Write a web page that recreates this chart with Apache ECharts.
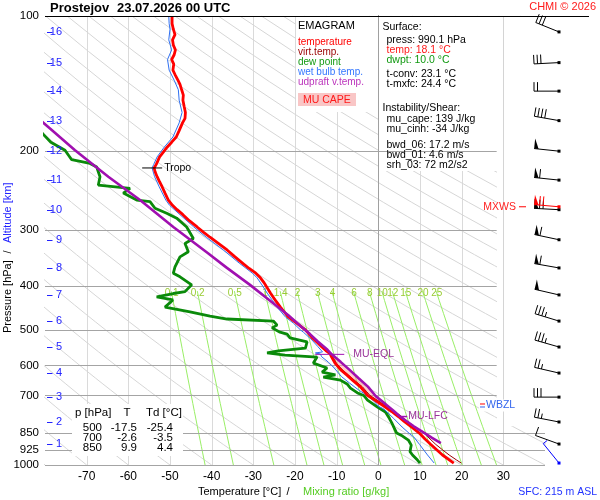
<!DOCTYPE html>
<html>
<head>
<meta charset="utf-8">
<script src="https://cdn.jsdelivr.net/npm/echarts@6/dist/echarts.min.js"></script>
<style>html,body{margin:0;padding:0;background:#fff;}#chart{width:600px;height:500px;}</style>
</head>
<body>
<div id="chart"></div>
<script>
// ---------------- data ----------------
const stationName = 'Prostejov';
const runTime = '23.07.2026 00 UTC';
const pressureTicks = [100, 200, 300, 400, 500, 600, 700, 850, 925, 1000];
const pressureGridLines = [200, 300, 400, 500, 600, 700, 850, 925, 1000];
const tempGridLight = [-70, -60, -50, -40, -30, -20, -10, 10, 20];
const tempGridStrong = [0, 30];
const altitudeKm = [1, 2, 3, 4, 5, 6, 7, 8, 9, 10, 11, 12, 13, 14, 15, 16];
const altitudeP = [898, 802, 706, 624, 546, 478, 418, 364, 315, 270, 232, 200, 171, 147, 127, 108.5];
const mixingRatios = [0.1, 0.2, 0.5, 1, 1.4, 2, 3, 4, 6, 8, 10, 12, 15, 20, 25];
const adiabatThetas = [-80,-70,-60,-50,-40,-30,-20,-10,0,10,20,30,40,50,60,70,80,90,100,110,120,130,140,150,160,170,180,190,200,210,220,230,240,250,260,270,280,290,300,310,320,330];

// [pressure hPa, value °C]
const temperature = [[990,18.1],[975,17.1],[950,15.4],[925,14.0],[900,12.6],[875,11.2],[850,9.9],[825,8.1],[800,6.2],[780,4.8],[760,3.2],[740,1.4],[720,-0.6],[700,-2.6],[685,-3.4],[670,-4.3],[647,-6.2],[630,-7.6],[614,-9.0],[593,-10.4],[575,-11.2],[565,-11.6],[556,-12.6],[545,-13.6],[535,-14.5],[519,-16.0],[500,-17.5],[483,-19.6],[468,-21.6],[456,-22.6],[445,-23.5],[430,-24.7],[414,-25.9],[400,-26.9],[393,-27.4],[383,-28.3],[374,-29.4],[365,-31.0],[355,-32.6],[344,-34.4],[332,-36.3],[321,-38.4],[311,-40.4],[303,-42.0],[295,-43.5],[286,-45.3],[277,-46.9],[270,-48.3],[264,-49.4],[257,-50.4],[248,-51.2],[240,-51.9],[233,-52.6],[228,-53.1],[222,-53.6],[218,-53.8],[214,-53.3],[210,-52.9],[206,-52.5],[201,-51.6],[196,-50.7],[191,-49.6],[186,-48.5],[180,-47.8],[173,-47.0],[169,-46.4],[164,-46.3],[159,-46.6],[154,-46.9],[150,-46.8],[146,-47.2],[142,-47.6],[139,-48.1],[135,-48.8],[132,-49.3],[128,-49.1],[125,-49.6],[122,-49.0],[119,-48.7],[116,-49.2],[113,-49.4],[110,-48.8],[107,-49.2],[104,-49.5],[100,-49.5]];
const virtualTemp = [[990,19.9],[975,18.8],[950,17.0],[925,15.4],[900,13.8],[875,12.4],[850,11.0],[825,9.0],[800,7.0],[780,5.6],[760,3.9],[740,2.0],[720,0.0],[700,-2.0],[685,-2.9],[670,-3.8],[647,-5.8],[630,-7.2],[614,-8.6],[593,-10.1],[575,-10.9],[565,-11.3],[556,-12.3],[545,-13.3],[535,-14.3],[519,-15.8],[500,-17.3],[483,-19.5],[468,-21.5],[445,-23.4],[414,-25.8],[400,-26.8]];
const dewpoint = [[990,10.0],[975,9.4],[950,8.2],[934,7.6],[926,7.4],[903,7.9],[880,7.2],[862,5.8],[849,4.4],[827,3.8],[805,3.2],[786,2.6],[762,1.7],[743,-0.2],[717,-2.6],[700,-3.5],[691,-5.0],[674,-6.7],[660,-7.5],[647,-9.1],[637,-13.2],[630,-10.3],[621,-13.5],[608,-12.3],[593,-15.6],[575,-14.7],[569,-22.4],[563,-26.7],[557,-24.0],[549,-17.5],[532,-17.1],[521,-21.2],[511,-21.9],[506,-23.6],[495,-25.5],[488,-24.3],[478,-25.2],[473,-36.3],[466,-40.4],[456,-45.2],[445,-51.2],[429,-49.3],[422,-53.2],[415,-49.2],[411,-46.4],[397,-44.8],[381,-47.6],[374,-49.2],[362,-48.8],[344,-47.6],[335,-45.6],[321,-46.4],[313,-44.4],[295,-46.0],[282,-48.4],[275,-50.8],[268,-53.6],[259,-54.8],[257,-58.0],[248,-61.2],[242,-59.6],[238,-67.2],[228,-66.8],[217,-67.6],[213,-69.2],[209,-73.6],[199,-75.2],[191,-78.6],[183,-80.5],[175,-83]];
const wetBulb = [[990,13.4],[950,11.8],[926,10.9],[900,9.9],[866,8.5],[850,7.4],[823,5.7],[788,3.7],[750,1.3],[740,0.0],[723,-0.9],[700,-2.7],[682,-4.6],[657,-6.9],[636,-8.8],[608,-10.6],[590,-12.0],[574,-13.6],[566,-13.9],[563,-15.1],[560,-13.4],[545,-14.5],[527,-15.9],[506,-18.0],[500,-18.7],[483,-20.4],[468,-22.3],[445,-24.3],[430,-25.4],[414,-26.7],[400,-27.7],[383,-29.1],[374,-30.2],[355,-33.4],[332,-37.2],[311,-41.3],[295,-44.3],[277,-47.6],[264,-50.1],[257,-51.0],[240,-52.6],[228,-53.7],[218,-54.3],[214,-53.9],[206,-53.1],[196,-51.4],[186,-49.3],[173,-47.8],[164,-47.1],[154,-47.8],[146,-48.0],[139,-49.0],[132,-50.2],[125,-50.6],[119,-49.6],[113,-50.3],[107,-50.0],[104,-50.2],[100,-50.3]];
const parcel = [[894,15.0],[870,12.9],[850,11.2],[820,8.5],[800,6.9],[780,5.2],[755,3.5],[730,1.6],[703,-0.6],[669,-2.5],[640,-4.8],[614,-6.9],[590,-9.0],[567,-11.2],[554,-12.2],[530,-14.6],[511,-16.4],[490,-18.7],[464,-21.6],[429,-26.2],[397,-30.8],[363,-36.5],[338,-40.8],[295,-49.2],[257,-57.2],[228,-64.8],[199,-72.8],[178,-78.8],[168,-82]];

const lfcLevel = [780, 5.0];
const eqlLevel = [567, -11.3];
const tropoLevel = [218, -53.8];
const wbzlP = 737;

// winds at altitude levels (knots, direction deg)
const windP = [898, 802, 706, 624, 546, 478, 418, 364, 315, 270, 232, 200, 171, 147, 127, 108.5];
const windSpeed = [10, 25, 30, 25, 35, 35, 50, 60, 60, 70, 60, 50, 40, 20, 30, 30];
const windDir = [290, 281, 270, 283, 286, 287, 283, 280, 282, 273, 276, 276, 280, 270, 267, 292];
const sfcWind = [990, 5, 321];
const maxWind = [266, 70, 275];

const tableP = [500, 700, 850];
const tableT = [-17.5, -2.6, 9.9];
const tableTd = [-25.4, -3.5, 4.4];

const legendItems = [['temperature', '#ff0000'], ['virt.temp.', '#990000'], ['dew point', '#119911'], ['wet bulb temp.', '#3377ff'], ['udpraft v.temp.', '#bb33bb']];
const surfaceLines = [
  ['Surface:', 0, 27.5, '#000'], ['press: 990.1 hPa', 4, 40, '#000'], ['temp: 18.1 °C', 4, 50, '#ff1a1a'],
  ['dwpt: 10.0 °C', 4, 60, '#119911'], ['t-conv: 23.1 °C', 4, 74, '#000'], ['t-mxfc: 24.4 °C', 4, 84, '#000'],
  ['Instability/Shear:', 0, 108.5, '#000'], ['mu_cape: 139 J/kg', 4, 119.5, '#000'], ['mu_cinh: -34 J/kg', 4, 129.5, '#000'],
  ['bwd_06: 17.2 m/s', 4, 145, '#000'], ['bwd_01: 4.6 m/s', 4, 155, '#000'], ['srh_03: 72 m2/s2', 4, 165, '#000']
];

// ---------------- helpers ----------------
const FONT = '"Liberation Sans", Arial, Helvetica, sans-serif';
function st(text, x, y, size, color, align, bold) {
  return { text: text, x: x, y: y, fill: color || '#000', font: (bold ? 'bold ' : '') + size + 'px ' + FONT,
    align: align || 'left', textAlign: align || 'left', verticalAlign: 'middle', textVerticalAlign: 'middle' };
}
function gtext(text, x, y, size, color, align, bold, z) {
  return { type: 'text', z: z || 20, silent: true, style: st(text, x, y, size, color, align, bold) };
}
const xy = arr => arr.map(d => [d[1], d[0]]);

function thetaLine(theta) {
  const pts = [];
  for (let p = 1000; p >= 100; p -= 20) {
    pts.push([(theta + 273.15) * Math.pow(p / 1000, 0.2857) - 273.15, p]);
  }
  return pts;
}
function mixT(w, p) {
  const e = w * p / (622 + w);
  const l = Math.log(e / 6.112);
  return 243.5 * l / (17.67 - l);
}
function mixLine(w) {
  const pts = [];
  for (let p = 1000; p >= 410; p -= 30) pts.push([mixT(w, p), p]);
  pts.push([mixT(w, 410), 410]);
  return pts;
}

function barbShapes(x0, y0, spd, dir, color) {
  const r = dir * Math.PI / 180, ux = Math.sin(r), uy = -Math.cos(r);
  const L = 25, ex = x0 + ux * L, ey = y0 + uy * L, px = -uy, py = ux;
  const ch = [
    { type: 'line', shape: { x1: x0, y1: y0, x2: ex, y2: ey }, style: { stroke: color, lineWidth: 1 } },
    { type: 'rect', shape: { x: x0 - 1.5, y: y0 - 1.5, width: 3, height: 3 }, style: { fill: color } }
  ];
  let s = Math.round(spd / 5) * 5, pos = 0;
  while (s >= 50) {
    const bx = ex - ux * pos, by = ey - uy * pos;
    ch.push({ type: 'polygon', shape: { points: [[bx, by], [bx + px * 10, by + py * 10], [bx - ux * 4.5, by - uy * 4.5]] }, style: { fill: color } });
    pos += 5.5; s -= 50;
  }
  while (s >= 10) {
    const bx = ex - ux * pos, by = ey - uy * pos;
    ch.push({ type: 'line', shape: { x1: bx, y1: by, x2: bx + px * 9, y2: by + py * 9 }, style: { stroke: color, lineWidth: 1 } });
    pos += 3.5; s -= 10;
  }
  if (s >= 5) {
    const bx = ex - ux * pos, by = ey - uy * pos;
    ch.push({ type: 'line', shape: { x1: bx, y1: by, x2: bx + px * 5, y2: by + py * 5 }, style: { stroke: color, lineWidth: 1 } });
  }
  return ch;
}

// ---------------- series ----------------
const series = [];
adiabatThetas.forEach(th => series.push({ type: 'line', data: xy(thetaLine(th).map(d => [d[1], d[0]])), showSymbol: false, silent: true, z: 1,
  lineStyle: { color: '#d6d6d6', width: 1 } }));
mixingRatios.forEach(w => series.push({ type: 'line', data: mixLine(w), showSymbol: false, silent: true, z: 1,
  lineStyle: { color: '#99ee66', width: 1 } }));
series.push({ type: 'custom', z: 1, silent: true, data: tempGridLight.map(v => [v, 1000]),
  renderItem: (params, api) => {
    const a = api.coord([api.value(0), 100]), b = api.coord([api.value(0), 1000]);
    const x = Math.round(a[0]) + 0.5;
    return { type: 'line', shape: { x1: x, y1: a[1], x2: x, y2: b[1] }, style: { stroke: '#dadada', lineWidth: 1 } };
  } });
series.push({ type: 'custom', z: 3, silent: true, data: tempGridStrong.map(v => [v, 1000]),
  renderItem: (params, api) => {
    const v = api.value(0);
    const a = api.coord([v, 100]), b = api.coord([v, 1000]);
    const x = Math.round(a[0]) + 0.5;
    return { type: 'line', shape: { x1: x, y1: a[1], x2: x, y2: b[1] }, style: { stroke: v === 0 ? '#a0a0a0' : '#d4d4d4', lineWidth: 1 } };
  } });
series.push({ type: 'custom', z: 3, silent: true, data: pressureGridLines.map(p => [-80, p]),
  renderItem: (params, api) => {
    const p = api.value(1);
    const a = api.coord([-80, p]), b = api.coord([p >= 850 ? 40 : 28.4, p]);
    const y = Math.round(a[1]) + 0.5;
    return { type: 'line', shape: { x1: a[0], y1: y, x2: b[0], y2: y }, style: { stroke: '#a4a4a4', lineWidth: 1 } };
  } });
// frame top line
series.push({ type: 'custom', z: 12, silent: true, data: [[-80, 100]],
  renderItem: (params, api) => {
    const a = api.coord([-80, 100]), b = api.coord([40, 100]);
    const y = Math.round(a[1]) + 0.5;
    return { type: 'line', shape: { x1: a[0], y1: y, x2: b[0] + 44, y2: y }, style: { stroke: '#000', lineWidth: 1 } };
  } });
// mixing ratio labels
series.push({ type: 'custom', z: 4, silent: true, data: mixingRatios.map(w => [mixT(w, 414), 414, w]),
  renderItem: (params, api) => {
    const a = api.coord([api.value(0), api.value(1)]);
    return { type: 'text', style: st(String(api.value(2)), a[0], a[1], 10, '#99cc33', 'center') };
  } });
// CAPE area
const capePoly = parcel.filter(d => d[0] <= lfcLevel[0] && d[0] >= eqlLevel[0])
  .concat(temperature.filter(d => d[0] <= lfcLevel[0] && d[0] >= 565).reverse());
series.push({ type: 'custom', z: 4, silent: true, data: [[0, 500]],
  renderItem: (params, api) => ({ type: 'polygon', shape: { points: capePoly.map(d => api.coord([d[1], d[0]])) },
    style: { fill: 'rgba(255,140,140,0.45)' } }) });
// profiles
series.push({ type: 'line', data: xy(dewpoint), showSymbol: false, silent: true, z: 5, lineStyle: { color: '#0a8a0a', width: 2.8 } });
series.push({ type: 'line', data: xy(wetBulb), showSymbol: false, silent: true, z: 6, lineStyle: { color: '#2f6ff0', width: 1 } });
series.push({ type: 'line', data: xy(virtualTemp), showSymbol: false, silent: true, z: 7, lineStyle: { color: '#990000', width: 1 } });
series.push({ type: 'line', data: xy(temperature), showSymbol: false, silent: true, z: 8, lineStyle: { color: '#ff0000', width: 2.8 } });
series.push({ type: 'line', data: xy(parcel), showSymbol: false, silent: true, z: 9, lineStyle: { color: '#a010b0', width: 2.6 } });
// annotations
series.push({ type: 'custom', z: 13, silent: true, data: [[tropoLevel[1], tropoLevel[0]]],
  renderItem: (params, api) => {
    const a = api.coord([api.value(0), api.value(1)]);
    return { type: 'group', children: [
      { type: 'line', shape: { x1: a[0] - 12, y1: a[1], x2: a[0] + 8, y2: a[1] }, style: { stroke: '#000', lineWidth: 1 } },
      { type: 'text', style: st('Tropo', a[0] + 10, a[1], 10.5, '#000', 'left') }] };
  } });
series.push({ type: 'custom', z: 13, silent: true, data: [[eqlLevel[1], eqlLevel[0]]],
  renderItem: (params, api) => {
    const a = api.coord([api.value(0), api.value(1)]);
    return { type: 'group', children: [
      { type: 'line', shape: { x1: a[0] - 16, y1: a[1], x2: a[0] + 13, y2: a[1] }, style: { stroke: '#a010b0', lineWidth: 1 } },
      { type: 'text', style: st('MU-EQL', a[0] + 22, a[1], 10.5, '#993399', 'left') }] };
  } });
series.push({ type: 'custom', z: 13, silent: true, data: [[lfcLevel[1], lfcLevel[0]]],
  renderItem: (params, api) => {
    const a = api.coord([api.value(0), api.value(1)]);
    return { type: 'group', children: [
      { type: 'line', shape: { x1: a[0], y1: a[1], x2: a[0] + 8, y2: a[1] }, style: { stroke: '#a010b0', lineWidth: 1.5 } },
      { type: 'text', style: st('MU-LFC', a[0] + 9, a[1], 10.5, '#993399', 'left') }] };
  } });
series.push({ type: 'custom', z: 13, silent: true, data: [[40, wbzlP]],
  renderItem: (params, api) => {
    const a = api.coord([40, api.value(1)]);
    const x = a[0] - 66, y = a[1];
    return { type: 'group', children: [
      { type: 'rect', shape: { x: x, y: y - 6, width: 44, height: 12 }, style: { fill: '#fff' } },
      { type: 'line', shape: { x1: x + 1, y1: y - 1.5, x2: x + 6, y2: y - 1.5 }, style: { stroke: '#ff0000', lineWidth: 1 } },
      { type: 'line', shape: { x1: x + 1, y1: y + 1.5, x2: x + 6, y2: y + 1.5 }, style: { stroke: '#3366ee', lineWidth: 1 } },
      { type: 'text', style: st('WBZL', x + 7, y, 10.5, '#3366ee', 'left') }] };
  } });
series.push({ type: 'custom', z: 13, silent: true, data: [[40, maxWind[0]]],
  renderItem: (params, api) => {
    const a = api.coord([40, api.value(1)]);
    return { type: 'group', children: [
      { type: 'line', shape: { x1: a[0] - 26, y1: a[1], x2: a[0] - 19, y2: a[1] }, style: { stroke: '#ff0000', lineWidth: 1 } },
      { type: 'text', style: st('MXWS', a[0] - 29, a[1], 10.5, '#ff2020', 'right') }] };
  } });
// y labels
series.push({ type: 'custom', z: 13, silent: true, data: pressureTicks.map(p => [-80, p]),
  renderItem: (params, api) => {
    const a = api.coord([-80, api.value(1)]);
    return { type: 'text', style: st(String(api.value(1)), a[0] - 6, a[1], 11.5, '#000', 'right') };
  } });
// altitude labels
series.push({ type: 'custom', z: 13, silent: true, data: altitudeP.map((p, i) => [-80, p, altitudeKm[i]]),
  renderItem: (params, api) => {
    const a = api.coord([-80, api.value(1)]);
    const y = Math.round(a[1]) + 0.5;
    return { type: 'group', children: [
      { type: 'line', shape: { x1: a[0] + 2, y1: y, x2: a[0] + 7.5, y2: y }, style: { stroke: '#2222ff', lineWidth: 1 } },
      { type: 'text', style: st(String(api.value(2)), a[0] + 17, a[1], 11, '#2222ff', 'right') }] };
  } });
// wind barbs
series.push({ type: 'custom', z: 13, silent: true, data: windP.map((p, i) => [40, p, windSpeed[i], windDir[i]]),
  renderItem: (params, api) => {
    const a = api.coord([40, api.value(1)]);
    return { type: 'group', children: barbShapes(a[0] + 14, a[1], api.value(2), api.value(3), '#000') };
  } });
series.push({ type: 'custom', z: 14, silent: true, data: [[40, maxWind[0], maxWind[1], maxWind[2]]],
  renderItem: (params, api) => {
    const a = api.coord([40, api.value(1)]);
    return { type: 'group', children: barbShapes(a[0] + 14, a[1], api.value(2), api.value(3), '#ff0000') };
  } });
series.push({ type: 'custom', z: 14, silent: true, data: [[40, sfcWind[0], sfcWind[1], sfcWind[2]]],
  renderItem: (params, api) => {
    const a = api.coord([40, api.value(1)]);
    return { type: 'group', children: barbShapes(a[0] + 14, a[1], api.value(2), api.value(3), '#0000ff') };
  } });

// ---------------- graphic (boxes / texts) ----------------
const graphics = [
  { type: 'rect', z: 2, silent: true, shape: { x: 296, y: 17, width: 82, height: 95 }, style: { fill: '#fff' } },
  { type: 'rect', z: 2, silent: true, shape: { x: 378, y: 17, width: 119, height: 154 }, style: { fill: '#fff' } },
  { type: 'rect', z: 2, silent: true, shape: { x: 497, y: 17, width: 103, height: 409 }, style: { fill: '#fff' } },
  { type: 'rect', z: 15, silent: true, shape: { x: 72, y: 404, width: 111, height: 52 }, style: { fill: '#fff' } },
  gtext(stationName, 50, 8, 13, '#000', 'left', true),
  gtext(runTime, 117, 8, 13, '#000', 'left', true),
  gtext('CHMI © 2026', 596, 7, 11, '#ff1a1a', 'right'),
  gtext('EMAGRAM', 298, 26, 11, '#000'),
  { type: 'rect', z: 16, silent: true, shape: { x: 298, y: 93, width: 58, height: 13 }, style: { fill: '#f9c6c6' } },
  gtext('MU CAPE', 303, 100, 10.5, '#ff1a1a'),
  gtext('p [hPa]', 75, 413, 11.5, '#000'),
  gtext('T', 127, 413, 11.5, '#000', 'center'),
  gtext('Td [°C]', 146, 413, 11.5, '#000'),
  gtext('Temperature [°C]', 198, 492, 11, '#000'),
  gtext('/', 288, 492, 11, '#000', 'center'),
  gtext('Mixing ratio [g/kg]', 303, 492, 11, '#55cc22'),
  gtext('SFC: 215 m ASL', 597, 492, 10.5, '#2233ff', 'right'),
  { type: 'group', x: 8, y: 258, rotation: Math.PI / 2, z: 20, silent: true, children: [
    { type: 'text', style: st('Pressure [hPa]', -75, 0, 11, '#000', 'left') },
    { type: 'text', style: st('/', 6, 0, 11, '#000', 'center') },
    { type: 'text', style: st('Altitude [km]', 15, 0, 11, '#2222ff', 'left') }] }
];
legendItems.forEach((it, i) => graphics.push(gtext(it[0], 298, 42 + i * 10, 10, it[1])));
surfaceLines.forEach(l => graphics.push(gtext(l[0], 382.5 + l[1], l[2], 10.5, l[3])));
tableP.forEach((p, i) => {
  const y = 428 + i * 10;
  graphics.push(gtext(String(p), 102, y, 11.5, '#000', 'right'));
  graphics.push(gtext(tableT[i].toFixed(1), 137, y, 11.5, '#000', 'right'));
  graphics.push(gtext(tableTd[i].toFixed(1), 173, y, 11.5, '#000', 'right'));
});

const chart = echarts.init(document.getElementById('chart'), null, { renderer: 'canvas', width: 600, height: 500 });
chart.setOption({
  animation: false,
  backgroundColor: '#fff',
  grid: { left: 45, right: 55, top: 16, bottom: 35, containLabel: false },
  xAxis: { type: 'value', min: -80, max: 40, interval: 10,
    axisLine: { show: false }, axisTick: { show: false }, splitLine: { show: false },
    axisLabel: { color: '#000', fontSize: 12, fontFamily: 'Liberation Sans', margin: 6,
      formatter: v => (v === -80 || v === 40) ? '' : String(v) } },
  yAxis: { type: 'log', logBase: 10, min: 100, max: 1000, inverse: true,
    axisLine: { show: true, lineStyle: { color: '#000', width: 1 } }, axisTick: { show: false },
    axisLabel: { show: false }, splitLine: { show: false }, minorSplitLine: { show: false } },
  series: series,
  graphic: { elements: graphics }
});
</script>
</body>
</html>
